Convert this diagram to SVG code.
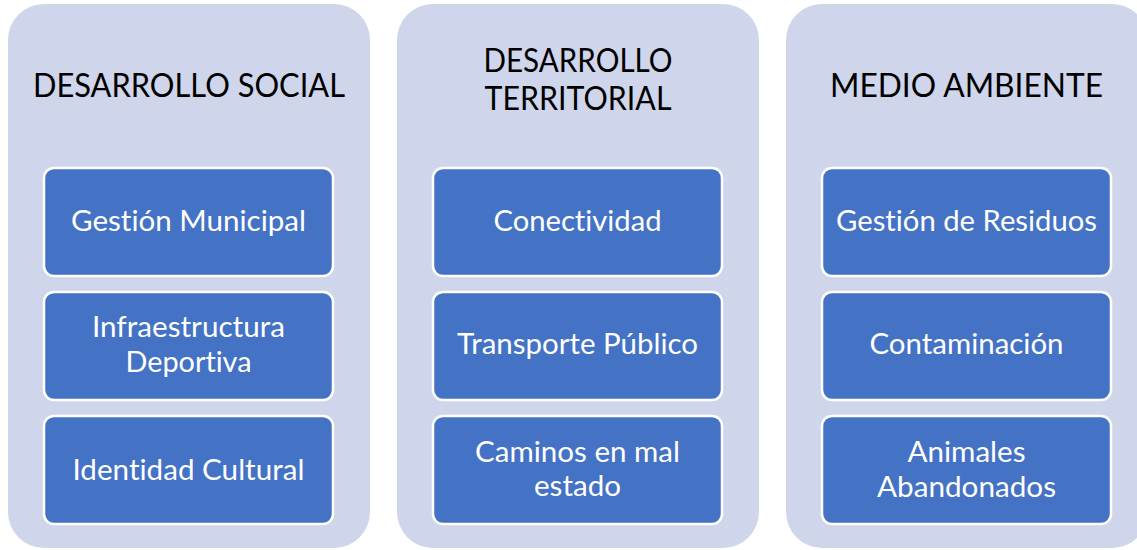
<svg xmlns="http://www.w3.org/2000/svg" width="1137" height="550" viewBox="0 0 1137 550">
<style>
.panel{fill:#CFD5EA;}
.box{fill:#4472C4;stroke:#FFFFFF;stroke-width:2.5;}
.title{font-family:Lato,"Open Sans","Liberation Sans",sans-serif;font-size:33px;fill:#000000;text-anchor:middle;font-variant-ligatures:none;}
.lbl{font-family:Lato,"Open Sans","Liberation Sans",sans-serif;font-size:28px;fill:#FFFFFF;text-anchor:middle;font-variant-ligatures:none;}
</style>
<rect width="1137" height="550" fill="#FFFFFF"/>
<g id="connectors"></g>
<g id="col-social">
<rect class="panel" x="8" y="4" width="362" height="544" rx="36" ry="36"/>
<text class="title" x="189" y="97" textLength="312" lengthAdjust="spacingAndGlyphs">DESARROLLO SOCIAL</text>
</g>
<g id="col-territorial">
<rect class="panel" x="397" y="4" width="362" height="544" rx="36" ry="36"/>
<text class="title" x="578" y="72" textLength="189" lengthAdjust="spacingAndGlyphs">DESARROLLO</text>
<text class="title" x="578" y="110" textLength="187" lengthAdjust="spacingAndGlyphs">TERRITORIAL</text>
</g>
<g id="col-ambiente">
<rect class="panel" x="786" y="4" width="362" height="544" rx="36" ry="36"/>
<text class="title" x="966.5" y="97" textLength="273" lengthAdjust="spacingAndGlyphs">MEDIO AMBIENTE</text>
</g>
<g id="n-gestion-municipal">
<rect class="box" x="44" y="168" width="289" height="108" rx="10" ry="10"/>
<text class="lbl" x="188.5" y="231" textLength="235" lengthAdjust="spacingAndGlyphs">Gestión Municipal</text>
</g>
<g id="n-infraestructura">
<rect class="box" x="44" y="292" width="289" height="108" rx="10" ry="10"/>
<text class="lbl" x="188.5" y="337" textLength="193" lengthAdjust="spacingAndGlyphs">Infraestructura</text>
<text class="lbl" x="188.5" y="372" textLength="126" lengthAdjust="spacingAndGlyphs">Deportiva</text>
</g>
<g id="n-identidad">
<rect class="box" x="44" y="416" width="289" height="108" rx="10" ry="10"/>
<text class="lbl" x="188.5" y="480" textLength="232" lengthAdjust="spacingAndGlyphs">Identidad Cultural</text>
</g>
<g id="n-conectividad">
<rect class="box" x="433" y="168" width="289" height="108" rx="10" ry="10"/>
<text class="lbl" x="577.5" y="231" textLength="168" lengthAdjust="spacingAndGlyphs">Conectividad</text>
</g>
<g id="n-transporte">
<rect class="box" x="433" y="292" width="289" height="108" rx="10" ry="10"/>
<text class="lbl" x="577.5" y="354" textLength="241" lengthAdjust="spacingAndGlyphs">Transporte Público</text>
</g>
<g id="n-caminos">
<rect class="box" x="433" y="416" width="289" height="108" rx="10" ry="10"/>
<text class="lbl" x="577.5" y="462" textLength="205" lengthAdjust="spacingAndGlyphs">Caminos en mal</text>
<text class="lbl" x="577.5" y="496" textLength="87" lengthAdjust="spacingAndGlyphs">estado</text>
</g>
<g id="n-residuos">
<rect class="box" x="822" y="168" width="289" height="108" rx="10" ry="10"/>
<text class="lbl" x="966.5" y="231" textLength="261" lengthAdjust="spacingAndGlyphs">Gestión de Residuos</text>
</g>
<g id="n-contaminacion">
<rect class="box" x="822" y="292" width="289" height="108" rx="10" ry="10"/>
<text class="lbl" x="966.5" y="354" textLength="194" lengthAdjust="spacingAndGlyphs">Contaminación</text>
</g>
<g id="n-animales">
<rect class="box" x="822" y="416" width="289" height="108" rx="10" ry="10"/>
<text class="lbl" x="966.5" y="462" textLength="118" lengthAdjust="spacingAndGlyphs">Animales</text>
<text class="lbl" x="966.5" y="497" textLength="179" lengthAdjust="spacingAndGlyphs">Abandonados</text>
</g>
</svg>
